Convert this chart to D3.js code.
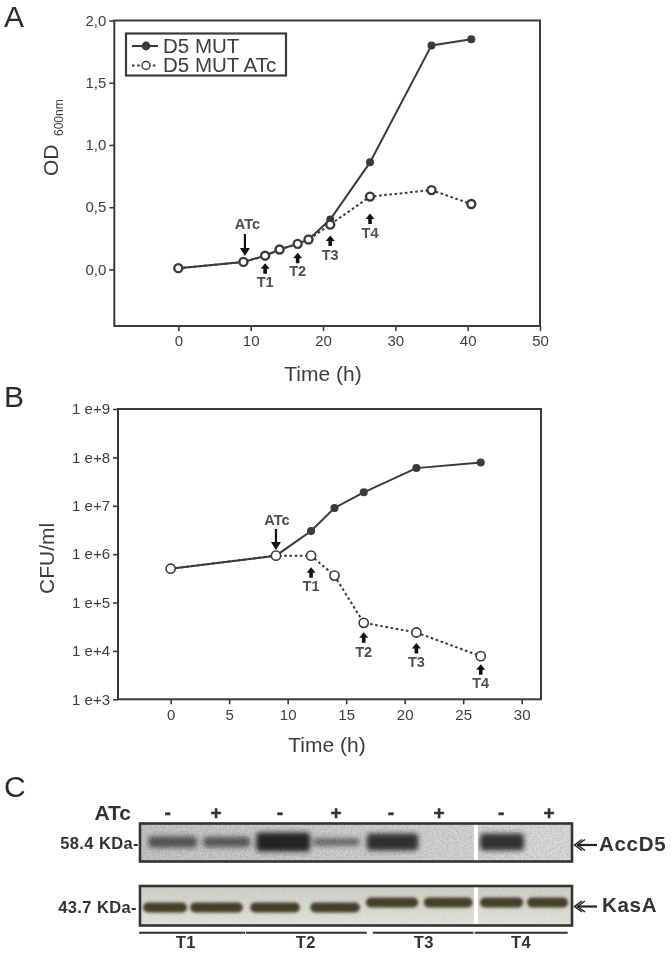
<!DOCTYPE html>
<html>
<head>
<meta charset="utf-8">
<style>
body { margin: 0; background: #fff; }
text { font-family: "Liberation Sans", Arial, sans-serif; }
svg { filter: blur(0.35px); }
</style>
<script src="https://cdn.jsdelivr.net/npm/d3@7"></script>
</head>
<body>
<div id="chart-area"></div>
<script>
// panel A, growth
var odTime = [0, 9, 12, 14, 16.5, 18, 21, 26.5, 35, 40.5];
var odMut = [0.01, 0.06, 0.11, 0.16, 0.205, 0.24, 0.40, 0.86, 1.80, 1.85];
var odAtc = [0.01, 0.06, 0.11, 0.16, 0.205, 0.24, 0.36, 0.585, 0.637, 0.525];
var odXTicks = [0, 10, 20, 30, 40, 50];
var odYTicks = [0, 0.5, 1, 1.5, 2];

// panel B, viability
var cfuTime = [0, 9, 12, 14, 16.5, 21, 26.5];
var cfuMut = [5e5, 9.3e5, 3e6, 9e6, 1.9e7, 6e7, 7.8e7];
var cfuAtc = [5e5, 9.3e5, 9.3e5, 3.6e5, 3.8e4, 2.4e4, 7.8e3];
var cfuXTicks = [0, 5, 10, 15, 20, 25, 30];
var cfuYTicks = [1e3, 1e4, 1e5, 1e6, 1e7, 1e8, 1e9];

var seriesNames = ["D5 MUT", "D5 MUT ATc"];
var timeLabels = ["T1", "T2", "T3", "T4"];

// panel C, lanes on the gel in percent of its width
var laneSigns = ["-", "+", "-", "+", "-", "+", "-", "+"];
var laneCentre = [6.4, 17.6, 32.4, 45.4, 58.1, 69.2, 83.6, 94.7];
var accStart = [1.9, 14.6, 26.9, 40, 52.5, 78.7];
var accEnd = [13.2, 25.5, 39.4, 50.9, 64.4, 88.9];
var accLevel = [0.45, 0.4, 1, 0.22, 0.85, 0.85];
var kasStart = [0.7, 11.6, 25.5, 39.4, 52.3, 65.7, 78.7, 89.6];
var kasEnd = [10.9, 23.8, 37, 50.9, 64.4, 77, 88.7, 99.1];
var groupStart = [-0.2, 24.5, 53.9, 77.5];
var groupEnd = [24.3, 52.5, 77.2, 99];
var groupCentre = [10.6, 38.4, 65.7, 88.2];

var ink = "#3a3a3a";
var textInk = "#3d3d3d";

var svg = d3.select("#chart-area")
    .append("svg")
    .attr("width", 672)
    .attr("height", 953)
    .style("display", "block");

var defs = svg.append("defs");

defs.append("filter").attr("id", "soft")
    .attr("x", "-20%").attr("y", "-80%").attr("width", "140%").attr("height", "260%")
    .append("feGaussianBlur").attr("stdDeviation", 2.7);

defs.append("filter").attr("id", "softer")
    .attr("x", "-20%").attr("y", "-60%").attr("width", "140%").attr("height", "220%")
    .append("feGaussianBlur").attr("stdDeviation", 1.4);

var grain = defs.append("filter").attr("id", "grain");
grain.append("feTurbulence")
    .attr("type", "fractalNoise")
    .attr("baseFrequency", 0.55)
    .attr("numOctaves", 2)
    .attr("seed", 4);
grain.append("feColorMatrix")
    .attr("values", "0 0 0 0 0  0 0 0 0 0  0 0 0 0 0  1.6 0 0 0 -0.55");

var grey = defs.append("linearGradient").attr("id", "greyBg");
grey.append("stop").attr("offset", "0%").attr("stop-color", "#c6c6c6");
grey.append("stop").attr("offset", "55%").attr("stop-color", "#d0d0d0");
grey.append("stop").attr("offset", "100%").attr("stop-color", "#dcdcdc");

var green = defs.append("linearGradient").attr("id", "greenBg")
    .attr("x1", 0).attr("x2", 0).attr("y1", 0).attr("y2", 1);
green.append("stop").attr("offset", "0%").attr("stop-color", "#cdd0c7");
green.append("stop").attr("offset", "100%").attr("stop-color", "#e2e5dc");

// up arrow used for T1..T4
function upArrow(g, x, tip) {
    var p = d3.path();
    p.moveTo(x, tip);
    p.lineTo(x + 4.5, tip + 5.5);
    p.lineTo(x + 1.8, tip + 5.5);
    p.lineTo(x + 1.8, tip + 10.5);
    p.lineTo(x - 1.8, tip + 10.5);
    p.lineTo(x - 1.8, tip + 5.5);
    p.lineTo(x - 4.5, tip + 5.5);
    p.closePath();
    g.append("path").attr("d", p.toString()).attr("fill", "#111");
}

// the long ATc arrow pointing down
function downArrow(g, x, top, tip) {
    g.append("line")
        .attr("x1", x).attr("x2", x)
        .attr("y1", top).attr("y2", tip - 6)
        .attr("stroke", "#111")
        .attr("stroke-width", 2.2);
    var p = d3.path();
    p.moveTo(x, tip);
    p.lineTo(x + 5, tip - 8);
    p.lineTo(x - 5, tip - 8);
    p.closePath();
    g.append("path").attr("d", p.toString()).attr("fill", "#111");
}

function note(g, x, y, label) {
    g.append("text")
        .attr("x", x)
        .attr("y", y)
        .attr("text-anchor", "middle")
        .attr("font-size", "14.5px")
        .attr("font-weight", "bold")
        .attr("fill", "#4f4f4f")
        .text(label);
}

function panelLetter(label, y) {
    svg.append("text")
        .attr("x", 4)
        .attr("y", y)
        .attr("font-size", "30px")
        .attr("fill", "#2a2a2a")
        .text(label);
}

function frame(x, y, tickFormat, xTicks, yTicks, padX, padY) {
    var g = svg.append("g");
    var r = x.range(), h = y.range();

    g.append("rect")
        .attr("x", r[0])
        .attr("y", h[1])
        .attr("width", r[1] - r[0])
        .attr("height", h[0] - h[1])
        .attr("fill", "none")
        .attr("stroke", ink)
        .attr("stroke-width", 2);

    var bottom = g.append("g")
        .attr("transform", "translate(0," + h[0] + ")")
        .call(d3.axisBottom(x).tickValues(xTicks).tickSize(5).tickPadding(padX));
    var left = g.append("g")
        .attr("transform", "translate(" + r[0] + ",0)")
        .call(d3.axisLeft(y).tickValues(yTicks).tickFormat(tickFormat).tickSize(5).tickPadding(padY));

    [bottom, left].forEach((a) => {
        a.select(".domain").remove();
        a.selectAll("line").attr("stroke", ink).attr("stroke-width", 1.6);
        a.selectAll("text")
            .attr("font-family", "Liberation Sans, Arial, sans-serif")
            .attr("font-size", "15px")
            .attr("fill", textInk);
    });
    return g;
}

function drawSeries(g, times, mut, atc, x, y, openR, openW) {
    var line = d3.line().x((d, i) => x(times[i])).y((d) => y(d));

    g.append("path")
        .attr("d", line(atc))
        .attr("fill", "none")
        .attr("stroke", ink)
        .attr("stroke-width", 2)
        .attr("stroke-dasharray", "2.6,2.6");
    g.append("path")
        .attr("d", line(mut))
        .attr("fill", "none")
        .attr("stroke", ink)
        .attr("stroke-width", 2);

    g.selectAll("circle.mut").data(mut).enter()
        .append("circle")
        .attr("class", "mut")
        .attr("cx", (d, i) => x(times[i]))
        .attr("cy", (d) => y(d))
        .attr("r", 4)
        .attr("fill", ink);

    // the solid line sits under the open markers up to the ATc point
    g.selectAll("circle.atc").data(atc).enter()
        .append("circle")
        .attr("class", "atc")
        .attr("cx", (d, i) => x(times[i]))
        .attr("cy", (d) => y(d))
        .attr("r", openR)
        .attr("fill", "#fff")
        .attr("stroke", ink)
        .attr("stroke-width", openW);
}

/* ---- A ---- */
panelLetter("A", 27);

var xA = d3.scaleLinear().domain([-8.85, 50]).range([114.3, 540]);
var yA = d3.scaleLinear().domain([-0.455, 2]).range([326, 20.5]);

var gA = frame(xA, yA, (d) => d3.format(".1f")(d).replace(".", ","), odXTicks, odYTicks, 4, 3);
drawSeries(gA, odTime, odMut, odAtc, xA, yA, 4, 2.4);

note(gA, xA(9) + 4, 229, "ATc");
downArrow(gA, xA(9) + 1.5, 234, 256);

// arrows and labels follow the marker they point at
[[12, 7.5, 31], [16.5, 9, 32.5], [21, 11, 35], [26.5, 17, 41]].forEach((a, i) => {
    var tx = xA(a[0]);
    var my = yA(odAtc[odTime.indexOf(a[0])]);
    upArrow(gA, tx, my + a[1]);
    note(gA, tx, my + a[2], timeLabels[i]);
});

// legend
var legend = svg.append("g");
legend.append("rect")
    .attr("x", 126)
    .attr("y", 33.5)
    .attr("width", 160)
    .attr("height", 42)
    .attr("fill", "#fff")
    .attr("stroke", ink)
    .attr("stroke-width", 2.2);

seriesNames.forEach((name, i) => {
    var ly = 46 + i * 19.5;
    var row = legend.append("line")
        .attr("x1", 132).attr("x2", 158)
        .attr("y1", ly).attr("y2", ly)
        .attr("stroke", ink)
        .attr("stroke-width", 2);
    if (i == 1) row.attr("stroke-dasharray", "2.6,2.6");
    legend.append("circle")
        .attr("cx", 146)
        .attr("cy", ly)
        .attr("r", i == 0 ? 4.4 : 4)
        .attr("fill", i == 0 ? ink : "#fff")
        .attr("stroke", ink)
        .attr("stroke-width", i == 0 ? 0 : 1.4);
    legend.append("text")
        .attr("x", 163)
        .attr("y", ly + 6.5)
        .attr("font-size", "20.5px")
        .attr("fill", textInk)
        .text(name);
});

svg.append("text")
    .attr("x", 323).attr("y", 381)
    .attr("text-anchor", "middle")
    .attr("font-size", "21px")
    .attr("fill", textInk)
    .text("Time (h)");

svg.append("text")
    .attr("transform", "translate(58,176) rotate(-90)")
    .attr("font-size", "21px")
    .attr("fill", textInk)
    .text("OD");
svg.append("text")
    .attr("transform", "translate(63,136) rotate(-90)")
    .attr("font-size", "12px")
    .attr("fill", textInk)
    .text("600nm");

/* ---- B ---- */
panelLetter("B", 407);

var xB = d3.scaleLinear().domain([-4.5, 31.65]).range([118, 541]);
var yB = d3.scaleLog().domain([1e3, 1e9]).range([699.3, 409]);

var gB = frame(xB, yB, (d) => "1 e+" + Math.round(Math.log10(d)), cfuXTicks, cfuYTicks, 5, 3);
drawSeries(gB, cfuTime, cfuMut, cfuAtc, xB, yB, 4.6, 1.6);

note(gB, xB(9) + 1, 525, "ATc");
downArrow(gB, xB(9), 529, 550);

[[12, 11.5, 35], [16.5, 9.5, 34], [21, 10.5, 34], [26.5, 8, 32]].forEach((a, i) => {
    var tx = xB(a[0]);
    var my = yB(cfuAtc[cfuTime.indexOf(a[0])]);
    upArrow(gB, tx, my + a[1]);
    note(gB, tx, my + a[2], timeLabels[i]);
});

svg.append("text")
    .attr("x", 327).attr("y", 752)
    .attr("text-anchor", "middle")
    .attr("font-size", "21px")
    .attr("fill", textInk)
    .text("Time (h)");

svg.append("text")
    .attr("transform", "translate(54,594) rotate(-90)")
    .attr("font-size", "21px")
    .attr("fill", textInk)
    .text("CFU/ml");

/* ---- C ---- */
panelLetter("C", 797);

var gelX = d3.scaleLinear().domain([0, 100]).range([140, 572]);
var thick = d3.scaleLinear().domain([0, 1]).range([5, 19]);

function gel(id, top, bottom, bg) {
    var g = svg.append("g");
    defs.append("clipPath").attr("id", id)
        .append("rect")
        .attr("x", gelX(0))
        .attr("y", top)
        .attr("width", gelX(100) - gelX(0))
        .attr("height", bottom - top);
    var inner = g.append("g").attr("clip-path", "url(#" + id + ")");
    inner.append("rect")
        .attr("x", gelX(0))
        .attr("y", top)
        .attr("width", gelX(100) - gelX(0))
        .attr("height", bottom - top)
        .attr("fill", bg);
    return { outer: g, inner: inner, top: top, bottom: bottom };
}

function closeGel(c, grainOpacity) {
    c.inner.append("rect")
        .attr("x", gelX(0))
        .attr("y", c.top)
        .attr("width", gelX(100) - gelX(0))
        .attr("height", c.bottom - c.top)
        .attr("filter", "url(#grain)")
        .attr("opacity", grainOpacity);
    // white seam between the spliced parts
    c.inner.append("rect")
        .attr("x", gelX(77.3))
        .attr("y", c.top)
        .attr("width", 4)
        .attr("height", c.bottom - c.top)
        .attr("fill", "#fff");
    c.outer.append("rect")
        .attr("x", gelX(0))
        .attr("y", c.top)
        .attr("width", gelX(100) - gelX(0))
        .attr("height", c.bottom - c.top)
        .attr("fill", "none")
        .attr("stroke", "#333")
        .attr("stroke-width", 2.6);
}

var acc = gel("gelAcc", 823.5, 861.5, "url(#greyBg)");
acc.inner.selectAll("rect.band").data(accStart).enter()
    .append("rect")
    .attr("class", "band")
    .attr("x", (d) => gelX(d))
    .attr("width", (d, i) => gelX(accEnd[i]) - gelX(d))
    .attr("y", (d, i) => 842 - thick(accLevel[i]) / 2)
    .attr("height", (d, i) => thick(accLevel[i]))
    .attr("rx", 4)
    .attr("fill", "#1f1f1f")
    .attr("opacity", (d, i) => 0.42 + 0.53 * accLevel[i])
    .attr("filter", "url(#soft)");
closeGel(acc, 0.18);

var kas = gel("gelKas", 886, 925.5, "url(#greenBg)");
kas.inner.selectAll("rect.band").data(kasStart).enter()
    .append("rect")
    .attr("class", "band")
    .attr("x", (d) => gelX(d))
    .attr("width", (d, i) => gelX(kasEnd[i]) - gelX(d))
    .attr("y", (d, i) => (i < 4 ? 902.5 : 897.5))
    .attr("height", 10)
    .attr("rx", 5)
    .attr("fill", "#473f2b")
    .attr("filter", "url(#softer)");
closeGel(kas, 0.06);

// ATc row
svg.append("text")
    .attr("x", 131).attr("y", 820)
    .attr("text-anchor", "end")
    .attr("font-size", "21px")
    .attr("font-weight", "bold")
    .attr("fill", "#333")
    .text("ATc");

svg.selectAll("text.sign").data(laneSigns).enter()
    .append("text")
    .attr("class", "sign")
    .attr("x", (d, i) => gelX(laneCentre[i]))
    .attr("y", 819)
    .attr("text-anchor", "middle")
    .attr("font-size", "19px")
    .attr("font-weight", "bold")
    .attr("stroke", "#333")
    .attr("stroke-width", 0.5)
    .attr("fill", "#333")
    .text((d) => d);

function kda(label, y, right) {
    svg.append("text")
        .attr("x", right)
        .attr("y", y)
        .attr("text-anchor", "end")
        .attr("font-size", "16.5px")
        .attr("font-weight", "bold")
        .attr("letter-spacing", "0.4px")
        .attr("fill", "#333")
        .text(label);
}
kda("58.4 KDa-", 849, 139);
kda("43.7 KDa-", 913, 137);

function target(label, y, left) {
    svg.append("text")
        .attr("x", left)
        .attr("y", y + 5.5)
        .attr("font-size", "20.5px")
        .attr("font-weight", "bold")
        .attr("letter-spacing", "0.7px")
        .attr("fill", "#333")
        .text(label);
    svg.append("line")
        .attr("x1", 597).attr("x2", 577)
        .attr("y1", y).attr("y2", y)
        .attr("stroke", "#222")
        .attr("stroke-width", 2.2);
    [0, 3].forEach((off) => {
        svg.append("path")
            .attr("d", d3.line()([[582 + off, y - 5.5], [574.5 + off, y], [582 + off, y + 5.5]]))
            .attr("fill", "none")
            .attr("stroke", "#222")
            .attr("stroke-width", 1.5);
    });
}
target("AccD5", 845, 599);
target("KasA", 906.5, 602);

// time brackets under the gels
svg.selectAll("line.group").data(groupStart).enter()
    .append("line")
    .attr("class", "group")
    .attr("x1", (d) => gelX(d))
    .attr("x2", (d, i) => gelX(groupEnd[i]))
    .attr("y1", 932.7)
    .attr("y2", 932.7)
    .attr("stroke", "#333")
    .attr("stroke-width", 2);

svg.selectAll("text.group").data(groupCentre).enter()
    .append("text")
    .attr("class", "group")
    .attr("x", (d) => gelX(d))
    .attr("y", 948)
    .attr("text-anchor", "middle")
    .attr("font-size", "16.5px")
    .attr("font-weight", "bold")
    .attr("letter-spacing", "0.5px")
    .attr("fill", "#333")
    .text((d, i) => timeLabels[i]);
</script>
</body>
</html>
